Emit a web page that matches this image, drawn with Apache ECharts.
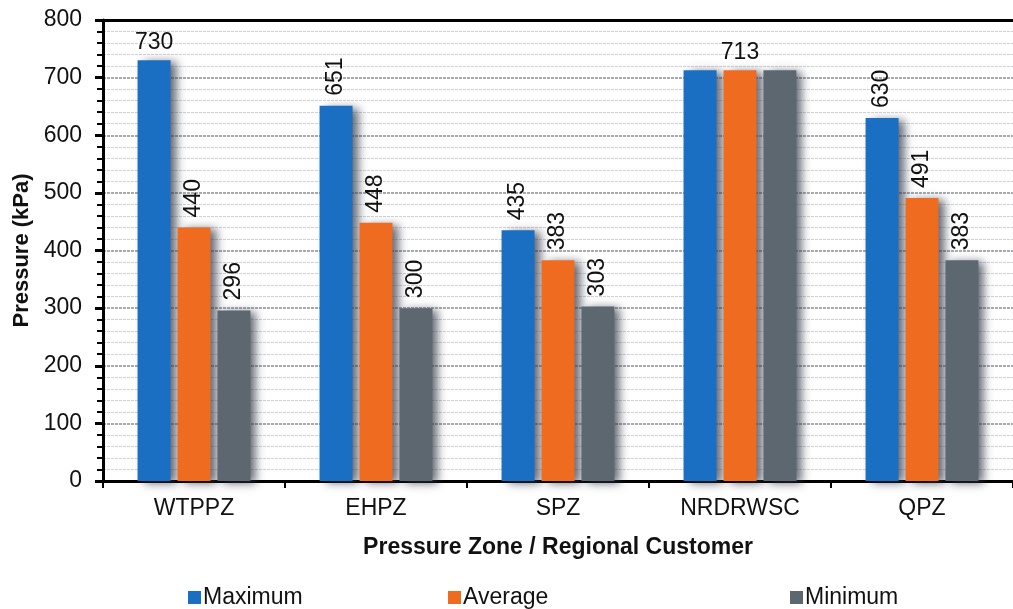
<!DOCTYPE html>
<html>
<head>
<meta charset="utf-8">
<script src="https://cdn.jsdelivr.net/npm/echarts@6/dist/echarts.min.js"></script>
<style>
  html, body { margin: 0; padding: 0; background: #fff; }
  #chart { width: 1013px; height: 609px; }
</style>
</head>
<body>
<div id="chart"></div>
<script>
const categories = ['WTPPZ', 'EHPZ', 'SPZ', 'NRDRWSC', 'QPZ'];
const maximum = [730, 651, 435, 713, 630];
const average = [440, 448, 383, 713, 491];
const minimum = [296, 300, 303, 713, 383];
const seriesNames = ['Maximum', 'Average', 'Minimum'];
const colors = ['#1b6fc3', '#ef6b1f', '#5c6770'];

// label style per bar: 'v' rotated, 'h' horizontal, '' hidden
const labelModes = [
  ['h', 'v', 'v', '', 'v'],
  ['v', 'v', 'v', 'h', 'v'],
  ['v', 'v', 'v', '', 'v']
];

const myChart = echarts.init(document.getElementById('chart'));

function buildData(values, modes) {
  return values.map((v, i) => {
    const m = modes[i];
    let label;
    if (m === 'h') {
      label = { show: true, position: 'top', rotate: 0, distance: 6, align: 'center', verticalAlign: 'bottom' };
    } else if (m === 'v') {
      label = { show: true, position: 'top', rotate: 90, distance: 10, align: 'left', verticalAlign: 'middle' };
    } else {
      label = { show: false };
    }
    return { value: v, label: label };
  });
}

const allValues = [maximum, average, minimum];

const series = seriesNames.map((name, k) => ({
  name: name,
  type: 'bar',
  data: buildData(allValues[k], labelModes[k]),
  barWidth: 33,
  barGap: '21%',
  itemStyle: {
    color: colors[k],
    shadowColor: 'rgba(50,55,70,0.75)',
    shadowBlur: 9,
    shadowOffsetX: 6,
    shadowOffsetY: 2
  },
  label: {
    color: '#111',
    fontSize: 23,
    fontFamily: 'Liberation Sans, Arial, sans-serif'
  }
}));

const legendPos = [183, 443, 785];
const legends = seriesNames.map((name, k) => ({
  data: [name],
  left: legendPos[k],
  top: 581,
  icon: 'rect',
  itemWidth: 13,
  itemHeight: 13,
  textStyle: { fontSize: 23, color: '#111', fontFamily: 'Liberation Sans, Arial, sans-serif', padding: [0, 0, 0, -3] }
}));

const option = {
  animation: false,
  backgroundColor: '#fff',
  textStyle: { fontFamily: 'Liberation Sans, Arial, sans-serif' },
  grid: {
    left: 103, width: 920, top: 20, bottom: 128
  },
  legend: legends,
  xAxis: [{
    type: 'category',
    data: categories,
    name: 'Pressure Zone / Regional Customer',
    nameLocation: 'middle',
    nameGap: 55,
    nameTextStyle: { fontSize: 23, fontWeight: 'bold', color: '#111' },
    axisLine: { lineStyle: { color: '#000', width: 3 } },
    axisTick: { show: true, length: 7, lineStyle: { color: '#000', width: 2 } },
    axisLabel: { fontSize: 23, color: '#111', margin: 16 },
    splitLine: { show: false }
  }, {
    // top border line of the plot
    type: 'category',
    data: categories,
    position: 'top',
    axisLine: { show: true, lineStyle: { color: '#000', width: 3 } },
    axisTick: { show: false },
    axisLabel: { show: false },
    splitLine: { show: false }
  }],
  yAxis: {
    type: 'value',
    min: 0,
    max: 800,
    interval: 100,
    name: 'Pressure (kPa)',
    nameLocation: 'middle',
    nameGap: 70,
    nameTextStyle: { fontSize: 22, fontWeight: 'bold', color: '#111' },
    axisLine: { show: true, lineStyle: { color: '#000', width: 3 } },
    axisTick: { show: true, length: 8, lineStyle: { color: '#000', width: 3 } },
    minorTick: { show: true, splitNumber: 5, length: 6, lineStyle: { color: '#000', width: 2 } },
    axisLabel: { fontSize: 23, color: '#111', margin: 21 },
    splitLine: { show: true, lineStyle: { color: '#8a8f98', width: 1.5, type: [3, 1] } },
    minorSplitLine: { show: true, lineStyle: { color: '#cfd2d8', width: 1, type: [3, 1] } }
  },
  series: series
};

myChart.setOption(option);
</script>
</body>
</html>
